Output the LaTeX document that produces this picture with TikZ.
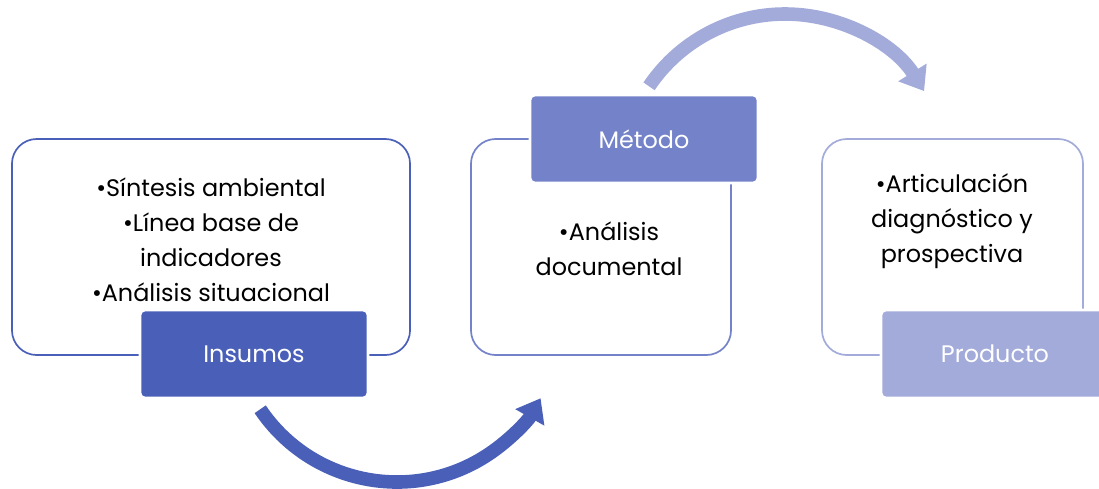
\documentclass[tikz,border=0pt]{standalone}
\usepackage{fontspec}
\setmainfont{Poppins}
\usepackage{xcolor}
\usetikzlibrary{positioning, arrows.meta, calc}

\definecolor{insumocol}{HTML}{4A60B8}
\definecolor{metodocol}{HTML}{7382C9}
\definecolor{productocol}{HTML}{A3ABDA}

\begin{document}
\begin{tikzpicture}[x=0.025cm, y=-0.025cm, every node/.style={font=\fontsize{17}{25}\selectfont}]
    % styles
    \tikzstyle{frame} = [rectangle, rounded corners=0.62cm, minimum height=5.4cm, line width=1.2pt, fill=white]
    \tikzstyle{tag} = [rectangle, rounded corners=0.12cm, minimum width=5.7cm, minimum height=2.2cm, draw=white, line width=2pt, text=white]
    \tikzstyle{items} = [align=center, text=black, inner sep=0pt]
    \tikzstyle{flow} = [line width=0.34cm, -{Triangle[length=0.55cm, width=0.8cm]}]

    % page
    \useasboundingbox (0,0) rectangle (1099,488);
    \fill[white] (0,0) rectangle (1099,488);

    % flow between steps
    \coordinate (loopA) at (397,317);
    \coordinate (loopB) at (785,178);
    \draw [flow, draw=insumocol] ($(loopA)+(146:165)$) arc[start angle=146, end angle=29.5, radius=165];
    \draw [flow, draw=productocol] ($(loopB)+(214:164)$) arc[start angle=214, end angle=328, radius=164];

    % frames
    \node (ambient) [frame, draw=insumocol, minimum width=9.95cm] at (211,247) {};
    \node (analisis) [frame, draw=metodocol, minimum width=6.5cm] at (601,247) {};
    \node (articula) [frame, draw=productocol, minimum width=6.525cm] at (952.5,247) {};

    % contents
    \node (ambienttext) [items] at (211,240) {•Síntesis ambiental\\•Línea base de\\indicadores\\•Análisis situacional};
    \node (analisistext) [items] at (609,249) {•Análisis\\documental};
    \node (articulatext) [items] at (952,221) {•Articulación\\diagnóstico y\\prospectiva};

    % tags
    \node (insumos) [tag, fill=insumocol] at (254,354) {Insumos};
    \node (metodo) [tag, fill=metodocol] at (644,139) {Método};
    \node (producto) [tag, fill=productocol] at (995,354) {Producto};
\end{tikzpicture}
\end{document}
